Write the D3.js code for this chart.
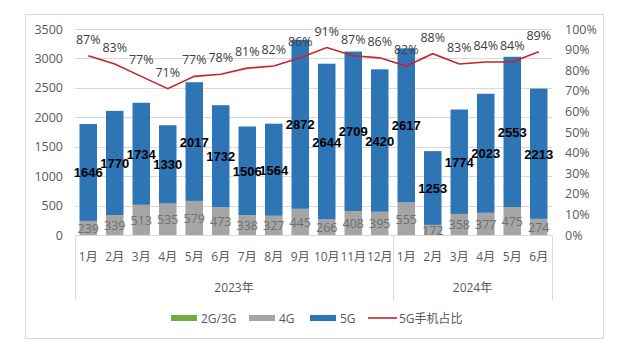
<!DOCTYPE html>
<html>
<head>
<meta charset="utf-8">
<script src="https://cdn.jsdelivr.net/npm/d3@7/dist/d3.min.js"></script>
<style>
  html, body { margin: 0; padding: 0; background: #fff; }
  svg { display: block; }
  text { font-family: "Open Sans", "Noto Sans CJK SC", sans-serif; }
</style>
</head>
<body>
<svg id="chart" width="640" height="345"></svg>
<script>
// Monthly phone shipments (10k units) by network type, and 5G share
const months = ["1月","2月","3月","4月","5月","6月","7月","8月","9月","10月","11月","12月",
                "1月","2月","3月","4月","5月","6月"];
const years = [{ label: "2023年", from: 0, to: 12 }, { label: "2024年", from: 12, to: 18 }];
const g23 = [0,0,0,0,0,0,0,0,0,0,0,0,0,0,0,0,0,0];
const g4 = [239,339,513,535,579,473,338,327,445,266,408,395,555,172,358,377,475,274];
const g5 = [1646,1770,1734,1330,2017,1732,1506,1564,2872,2644,2709,2420,2617,1253,1774,2023,2553,2213];
const share5g = [87,83,77,71,77,78,81,82,86,91,87,86,82,88,83,84,84,89];
const leftTicks = [0,500,1000,1500,2000,2500,3000,3500];
const rightTicks = [0,10,20,30,40,50,60,70,80,90,100];

const colors = { g23: "#70ad47", g4: "#a5a5a5", g5: "#2e75b6", line: "#c8232c" };

const svg = d3.select("#chart");

// outer frame
svg.append("rect").attr("x", 25.5).attr("y", 14.5).attr("width", 578).attr("height", 324)
  .attr("fill", "#fff").attr("stroke", "#d9d9d9").attr("stroke-width", 1);

const plot = { left: 75, right: 552, top: 29, bottom: 235 };

const x = d3.scaleBand().domain(d3.range(months.length))
  .range([plot.left, plot.right]).paddingInner(0.34).paddingOuter(0.17);
const y = d3.scaleLinear().domain([0, 3500]).range([plot.bottom, plot.top]);
const yPct = d3.scaleLinear().domain([0, 100]).range([plot.bottom, plot.top]);

// horizontal gridlines
svg.append("g").selectAll("line").data(leftTicks.slice(1)).join("line")
  .attr("x1", plot.left).attr("x2", plot.right)
  .attr("y1", d => Math.round(y(d)) + 0.5).attr("y2", d => Math.round(y(d)) + 0.5)
  .attr("stroke", "#d9d9d9");

// left axis
const leftAxis = d3.axisLeft(y).tickValues(leftTicks).tickSize(0).tickPadding(12)
  .tickFormat(d3.format("d"));
svg.append("g").attr("transform", `translate(${plot.left},0)`).call(leftAxis)
  .call(g => g.select(".domain").remove())
  .call(g => g.selectAll("text").attr("fill", "#595959").attr("font-size", 12.5));

// right axis
const rightAxis = d3.axisRight(yPct).tickValues(rightTicks).tickSize(0).tickPadding(13)
  .tickFormat(d => d + "%");
svg.append("g").attr("transform", `translate(${plot.right},0)`).call(rightAxis)
  .call(g => g.select(".domain").remove())
  .call(g => g.selectAll("text").attr("fill", "#595959").attr("font-size", 12.5));

// stacked bars
const rows = months.map((m, i) => ({ i, g23: g23[i], g4: g4[i], g5: g5[i] }));
const stack = d3.stack().keys(["g23", "g4", "g5"])(rows);
svg.append("g").selectAll("g").data(stack).join("g")
  .attr("fill", s => colors[s.key])
  .selectAll("rect").data(s => s).join("rect")
  .attr("x", d => x(d.data.i)).attr("width", x.bandwidth())
  .attr("y", d => y(d[1])).attr("height", d => y(d[0]) - y(d[1]));

// x axis baseline and group separators
svg.append("line").attr("x1", plot.left).attr("x2", plot.right)
  .attr("y1", plot.bottom + 0.5).attr("y2", plot.bottom + 0.5).attr("stroke", "#d9d9d9");
const seps = [0, 12, 18].map(k => k === 18 ? plot.right : (k === 0 ? plot.left : x(k) - x.step() * x.paddingInner() / 2));
svg.append("g").selectAll("line").data(seps).join("line")
  .attr("x1", d => Math.round(d) + 0.5).attr("x2", d => Math.round(d) + 0.5)
  .attr("y1", plot.bottom).attr("y2", 300).attr("stroke", "#d9d9d9");

// category labels
svg.append("g").selectAll("text").data(months).join("text")
  .attr("x", (d, i) => x(i) + x.bandwidth() / 2).attr("y", 261)
  .attr("text-anchor", "middle").attr("font-size", 12).attr("fill", "#595959")
  .text(d => d);

// year labels
svg.append("g").selectAll("text").data(years).join("text")
  .attr("x", d => ((d.from === 0 ? plot.left : seps[1]) + (d.to === 18 ? plot.right : seps[1])) / 2)
  .attr("y", 292).attr("text-anchor", "middle").attr("font-size", 12).attr("fill", "#595959")
  .text(d => d.label);

// 4G value labels
svg.append("g").selectAll("text").data(rows).join("text")
  .attr("x", d => x(d.i) + x.bandwidth() / 2).attr("y", d => y(d.g23 + d.g4 / 2) + 5)
  .attr("text-anchor", "middle").attr("font-size", 12.5).attr("fill", "#6f6f6f")
  .text(d => d.g4);

// 5G value labels
svg.append("g").selectAll("text").data(rows).join("text")
  .attr("x", d => x(d.i) + x.bandwidth() / 2).attr("y", d => y(d.g23 + d.g4 + d.g5 / 2) + 5)
  .attr("text-anchor", "middle").attr("font-size", 13).attr("font-weight", "bold")
  .attr("fill", "#000").style("font-family", "'Liberation Sans', Arial, sans-serif")
  .text(d => d.g5);

// 5G share line
const line = d3.line().x((d, i) => x(i) + x.bandwidth() / 2).y(d => yPct(d));
svg.append("path").datum(share5g).attr("d", line)
  .attr("fill", "none").attr("stroke", colors.line).attr("stroke-width", 1.6);

svg.append("g").selectAll("text").data(share5g).join("text")
  .attr("x", (d, i) => x(i) + x.bandwidth() / 2).attr("y", d => yPct(d) - 12)
  .attr("text-anchor", "middle").attr("font-size", 12.5).attr("fill", "#404040")
  .text(d => d + "%");

// legend
const legend = [
  { label: "2G/3G", color: colors.g23, type: "rect", x: 171 },
  { label: "4G", color: colors.g4, type: "rect", x: 249 },
  { label: "5G", color: colors.g5, type: "rect", x: 310 },
  { label: "5G手机占比", color: colors.line, type: "line", x: 368 }
];
const lg = svg.append("g").selectAll("g").data(legend).join("g")
  .attr("transform", d => `translate(${d.x},318)`);
lg.filter(d => d.type === "rect").append("rect")
  .attr("x", 0).attr("y", -3).attr("width", 26).attr("height", 6).attr("fill", d => d.color);
lg.filter(d => d.type === "line").append("line")
  .attr("x1", 0).attr("x2", 29).attr("y1", 0).attr("y2", 0)
  .attr("stroke", d => d.color).attr("stroke-width", 1.6);
lg.append("text").attr("x", d => d.type === "line" ? 31 : 30).attr("y", 4.5)
  .attr("font-size", 12).attr("fill", "#595959").text(d => d.label);
</script>
</body>
</html>
